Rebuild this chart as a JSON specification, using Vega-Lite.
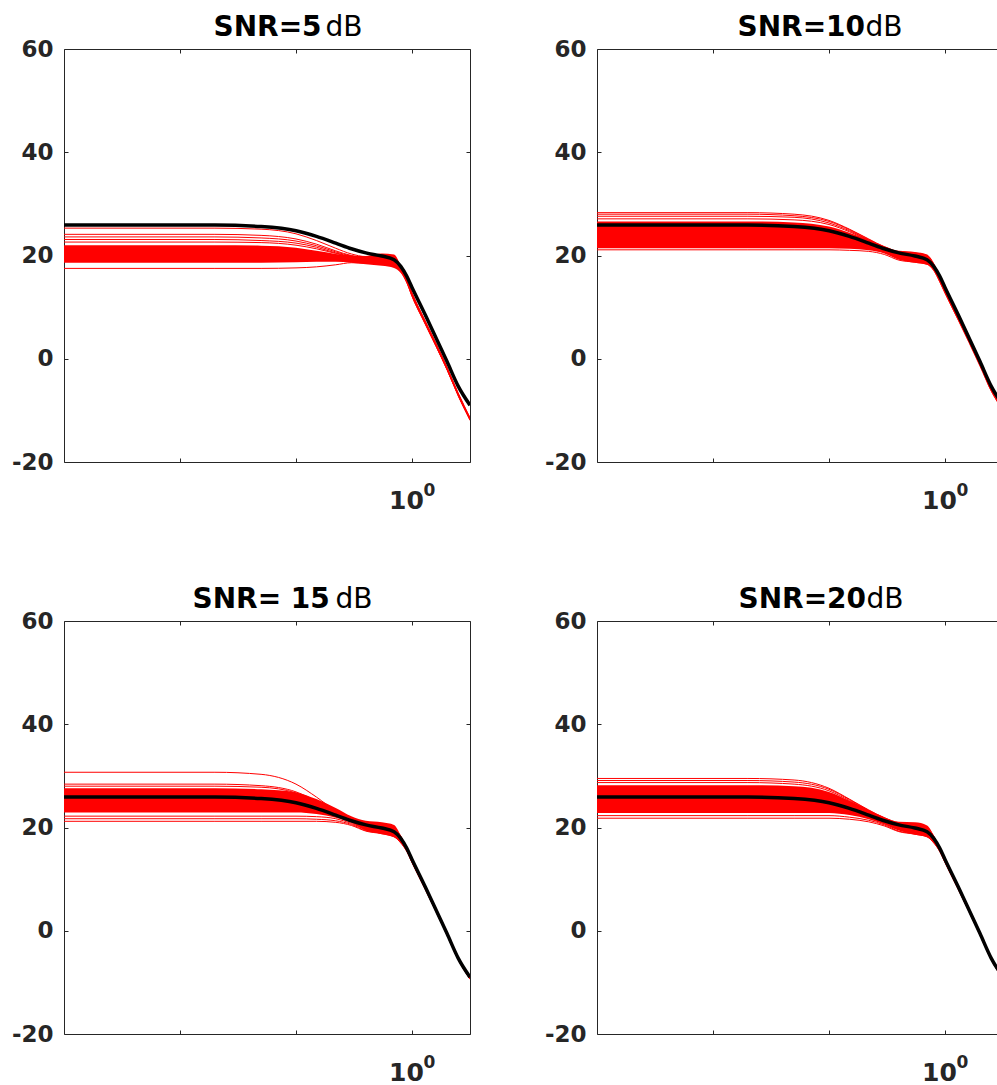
{
"$schema":"https://vega.github.io/schema/vega-lite/v6.json",
"padding":{"left":11,"top":13,"right":0,"bottom":0},
"config":{"font":"DejaVu Sans","view":{"stroke":null},"axis":{"grid":false}},
"bounds":"flush",
"spacing":{"row":159,"column":127},
"columns":2,
"datasets":{
"blk":[{"f":0.001,"v":25.9},{"f":0.02,"v":25.9},{"f":0.05,"v":25.6},{"f":0.1,"v":24.8},{"f":0.15,"v":23.7},{"f":0.22,"v":22.4},{"f":0.3,"v":21.3},{"f":0.4,"v":20.5},{"f":0.55,"v":19.9},{"f":0.7,"v":19.2},{"f":0.8,"v":17.9},{"f":0.9,"v":16.0},{"f":1,"v":13.8},{"f":1.3,"v":8.5},{"f":2,"v":-0.5},{"f":2.5,"v":-5.3},{"f":3.1623,"v":-9.0}],
"band":[
{"p":1,"f":0.001,"lo":18.6,"hi":22.0},{"p":1,"f":0.02,"lo":18.6,"hi":22.0},{"p":1,"f":0.05,"lo":18.6,"hi":21.9},{"p":1,"f":0.1,"lo":18.7,"hi":21.5},{"p":1,"f":0.15,"lo":18.8,"hi":20.9},{"p":1,"f":0.22,"lo":18.8,"hi":20.3},{"p":1,"f":0.3,"lo":18.6,"hi":20.0},{"p":1,"f":0.4,"lo":18.3,"hi":19.9},{"p":1,"f":0.55,"lo":18.0,"hi":20.4},{"p":1,"f":0.7,"lo":17.6,"hi":20.2},{"p":1,"f":0.8,"lo":16.6,"hi":18.1},{"p":1,"f":0.9,"lo":14.6,"hi":15.6},{"p":1,"f":1,"lo":11.9,"hi":13.0},{"p":1,"f":1.3,"lo":6.6,"hi":7.5},{"p":1,"f":2,"lo":-2.2,"hi":-1.4},{"p":1,"f":2.5,"lo":-7.4,"hi":-6.6},{"p":1,"f":3.1623,"lo":-12.0,"hi":-11.3},
{"p":2,"f":0.001,"lo":21.4,"hi":26.6},{"p":2,"f":0.02,"lo":21.4,"hi":26.6},{"p":2,"f":0.05,"lo":21.4,"hi":26.4},{"p":2,"f":0.1,"lo":21.4,"hi":25.6},{"p":2,"f":0.15,"lo":21.3,"hi":24.4},{"p":2,"f":0.22,"lo":21.0,"hi":23.0},{"p":2,"f":0.3,"lo":20.4,"hi":21.8},{"p":2,"f":0.4,"lo":19.2,"hi":20.9},{"p":2,"f":0.55,"lo":18.6,"hi":20.7},{"p":2,"f":0.7,"lo":18.2,"hi":20.2},{"p":2,"f":0.8,"lo":17.0,"hi":18.6},{"p":2,"f":0.9,"lo":14.8,"hi":16.0},{"p":2,"f":1,"lo":12.6,"hi":13.6},{"p":2,"f":1.3,"lo":7.4,"hi":8.3},{"p":2,"f":2,"lo":-1.4,"hi":-0.7},{"p":2,"f":2.5,"lo":-6.4,"hi":-5.7},{"p":2,"f":3.1623,"lo":-10.0,"hi":-9.3},
{"p":3,"f":0.001,"lo":22.9,"hi":27.6},{"p":3,"f":0.02,"lo":22.9,"hi":27.6},{"p":3,"f":0.05,"lo":22.9,"hi":27.4},{"p":3,"f":0.1,"lo":22.9,"hi":26.8},{"p":3,"f":0.15,"lo":22.6,"hi":25.5},{"p":3,"f":0.22,"lo":21.9,"hi":23.8},{"p":3,"f":0.3,"lo":20.9,"hi":22.2},{"p":3,"f":0.4,"lo":19.4,"hi":21.3},{"p":3,"f":0.55,"lo":18.7,"hi":21.0},{"p":3,"f":0.7,"lo":18.1,"hi":20.5},{"p":3,"f":0.8,"lo":17.0,"hi":18.5},{"p":3,"f":0.9,"lo":15.3,"hi":16.2},{"p":3,"f":1,"lo":13.2,"hi":14.0},{"p":3,"f":1.3,"lo":8.0,"hi":8.7},{"p":3,"f":2,"lo":-0.9,"hi":-0.3},{"p":3,"f":2.5,"lo":-5.7,"hi":-5.1},{"p":3,"f":3.1623,"lo":-9.4,"hi":-8.9},
{"p":4,"f":0.001,"lo":22.8,"hi":28.2},{"p":4,"f":0.02,"lo":22.8,"hi":28.2},{"p":4,"f":0.05,"lo":22.8,"hi":28.0},{"p":4,"f":0.1,"lo":22.8,"hi":26.9},{"p":4,"f":0.15,"lo":22.4,"hi":25.2},{"p":4,"f":0.22,"lo":21.6,"hi":23.4},{"p":4,"f":0.3,"lo":20.6,"hi":22.0},{"p":4,"f":0.4,"lo":19.4,"hi":21.1},{"p":4,"f":0.55,"lo":18.6,"hi":21.0},{"p":4,"f":0.7,"lo":18.1,"hi":20.4},{"p":4,"f":0.8,"lo":17.0,"hi":18.5},{"p":4,"f":0.9,"lo":15.3,"hi":16.2},{"p":4,"f":1,"lo":13.2,"hi":14.0},{"p":4,"f":1.3,"lo":8.0,"hi":8.7},{"p":4,"f":2,"lo":-0.9,"hi":-0.3},{"p":4,"f":2.5,"lo":-5.7,"hi":-5.1},{"p":4,"f":3.1623,"lo":-9.4,"hi":-8.9}
],
"red":[
{"p":1,"c":"a","f":0.001,"v":25.3},{"p":1,"c":"a","f":0.02,"v":25.3},{"p":1,"c":"a","f":0.05,"v":25.1},{"p":1,"c":"a","f":0.1,"v":24.2},{"p":1,"c":"a","f":0.15,"v":22.9},{"p":1,"c":"a","f":0.22,"v":21.4},{"p":1,"c":"a","f":0.3,"v":20.3},{"p":1,"c":"a","f":0.4,"v":19.8},{"p":1,"c":"a","f":0.55,"v":20.1},{"p":1,"c":"a","f":0.7,"v":19.8},{"p":1,"c":"a","f":0.8,"v":17.8},{"p":1,"c":"a","f":0.9,"v":15.3},{"p":1,"c":"a","f":1,"v":12.7},{"p":1,"c":"a","f":1.3,"v":7.3},{"p":1,"c":"a","f":2,"v":-1.6},{"p":1,"c":"a","f":2.5,"v":-6.6},{"p":1,"c":"a","f":3.1623,"v":-11.4},
{"p":1,"c":"b","f":0.001,"v":24.1},{"p":1,"c":"b","f":0.02,"v":24.1},{"p":1,"c":"b","f":0.05,"v":23.9},{"p":1,"c":"b","f":0.1,"v":23.2},{"p":1,"c":"b","f":0.15,"v":22.2},{"p":1,"c":"b","f":0.22,"v":20.9},{"p":1,"c":"b","f":0.3,"v":20.0},{"p":1,"c":"b","f":0.4,"v":19.6},{"p":1,"c":"b","f":0.55,"v":19.9},{"p":1,"c":"b","f":0.7,"v":19.6},{"p":1,"c":"b","f":0.8,"v":17.6},{"p":1,"c":"b","f":0.9,"v":15.2},{"p":1,"c":"b","f":1,"v":12.6},{"p":1,"c":"b","f":1.3,"v":7.1},{"p":1,"c":"b","f":2,"v":-1.8},{"p":1,"c":"b","f":2.5,"v":-6.8},{"p":1,"c":"b","f":3.1623,"v":-11.6},
{"p":1,"c":"c","f":0.001,"v":23.6},{"p":1,"c":"c","f":0.02,"v":23.6},{"p":1,"c":"c","f":0.05,"v":23.4},{"p":1,"c":"c","f":0.1,"v":22.8},{"p":1,"c":"c","f":0.15,"v":21.9},{"p":1,"c":"c","f":0.22,"v":20.7},{"p":1,"c":"c","f":0.3,"v":19.9},{"p":1,"c":"c","f":0.4,"v":19.5},{"p":1,"c":"c","f":0.55,"v":19.8},{"p":1,"c":"c","f":0.7,"v":19.5},{"p":1,"c":"c","f":0.8,"v":17.5},{"p":1,"c":"c","f":0.9,"v":15.1},{"p":1,"c":"c","f":1,"v":12.5},{"p":1,"c":"c","f":1.3,"v":7.0},{"p":1,"c":"c","f":2,"v":-1.9},{"p":1,"c":"c","f":2.5,"v":-6.9},{"p":1,"c":"c","f":3.1623,"v":-11.7},
{"p":1,"c":"d","f":0.001,"v":23.1},{"p":1,"c":"d","f":0.02,"v":23.1},{"p":1,"c":"d","f":0.05,"v":22.9},{"p":1,"c":"d","f":0.1,"v":22.4},{"p":1,"c":"d","f":0.15,"v":21.6},{"p":1,"c":"d","f":0.22,"v":20.5},{"p":1,"c":"d","f":0.3,"v":19.8},{"p":1,"c":"d","f":0.4,"v":19.4},{"p":1,"c":"d","f":0.55,"v":19.7},{"p":1,"c":"d","f":0.7,"v":19.4},{"p":1,"c":"d","f":0.8,"v":17.4},{"p":1,"c":"d","f":0.9,"v":15.0},{"p":1,"c":"d","f":1,"v":12.4},{"p":1,"c":"d","f":1.3,"v":6.9},{"p":1,"c":"d","f":2,"v":-2.0},{"p":1,"c":"d","f":2.5,"v":-7.0},{"p":1,"c":"d","f":3.1623,"v":-11.8},
{"p":1,"c":"e","f":0.001,"v":22.6},{"p":1,"c":"e","f":0.02,"v":22.6},{"p":1,"c":"e","f":0.05,"v":22.5},{"p":1,"c":"e","f":0.1,"v":22.0},{"p":1,"c":"e","f":0.15,"v":21.3},{"p":1,"c":"e","f":0.22,"v":20.4},{"p":1,"c":"e","f":0.3,"v":19.7},{"p":1,"c":"e","f":0.4,"v":19.3},{"p":1,"c":"e","f":0.55,"v":19.6},{"p":1,"c":"e","f":0.7,"v":19.3},{"p":1,"c":"e","f":0.8,"v":17.3},{"p":1,"c":"e","f":0.9,"v":15.0},{"p":1,"c":"e","f":1,"v":12.3},{"p":1,"c":"e","f":1.3,"v":6.9},{"p":1,"c":"e","f":2,"v":-2.0},{"p":1,"c":"e","f":2.5,"v":-7.0},{"p":1,"c":"e","f":3.1623,"v":-11.8},
{"p":1,"c":"f","f":0.001,"v":17.5},{"p":1,"c":"f","f":0.02,"v":17.5},{"p":1,"c":"f","f":0.05,"v":17.5},{"p":1,"c":"f","f":0.1,"v":17.6},{"p":1,"c":"f","f":0.15,"v":17.8},{"p":1,"c":"f","f":0.22,"v":18.2},{"p":1,"c":"f","f":0.3,"v":18.6},{"p":1,"c":"f","f":0.4,"v":18.5},{"p":1,"c":"f","f":0.55,"v":18.3},{"p":1,"c":"f","f":0.7,"v":18.0},{"p":1,"c":"f","f":0.8,"v":16.9},{"p":1,"c":"f","f":0.9,"v":14.8},{"p":1,"c":"f","f":1,"v":12.1},{"p":1,"c":"f","f":1.3,"v":6.7},{"p":1,"c":"f","f":2,"v":-2.1},{"p":1,"c":"f","f":2.5,"v":-7.1},{"p":1,"c":"f","f":3.1623,"v":-11.9},
{"p":2,"c":"a","f":0.001,"v":28.3},{"p":2,"c":"a","f":0.02,"v":28.3},{"p":2,"c":"a","f":0.05,"v":28.0},{"p":2,"c":"a","f":0.1,"v":26.8},{"p":2,"c":"a","f":0.15,"v":25.1},{"p":2,"c":"a","f":0.22,"v":23.2},{"p":2,"c":"a","f":0.3,"v":21.7},{"p":2,"c":"a","f":0.4,"v":20.7},{"p":2,"c":"a","f":0.55,"v":20.5},{"p":2,"c":"a","f":0.7,"v":20.0},{"p":2,"c":"a","f":0.8,"v":18.3},{"p":2,"c":"a","f":0.9,"v":15.7},{"p":2,"c":"a","f":1,"v":13.3},{"p":2,"c":"a","f":1.3,"v":8.0},{"p":2,"c":"a","f":2,"v":-0.9},{"p":2,"c":"a","f":2.5,"v":-5.7},{"p":2,"c":"a","f":3.1623,"v":-9.5},
{"p":2,"c":"b","f":0.001,"v":28.0},{"p":2,"c":"b","f":0.02,"v":28.0},{"p":2,"c":"b","f":0.05,"v":27.7},{"p":2,"c":"b","f":0.1,"v":26.6},{"p":2,"c":"b","f":0.15,"v":25.0},{"p":2,"c":"b","f":0.22,"v":23.1},{"p":2,"c":"b","f":0.3,"v":21.6},{"p":2,"c":"b","f":0.4,"v":20.6},{"p":2,"c":"b","f":0.55,"v":20.4},{"p":2,"c":"b","f":0.7,"v":19.9},{"p":2,"c":"b","f":0.8,"v":18.2},{"p":2,"c":"b","f":0.9,"v":15.6},{"p":2,"c":"b","f":1,"v":13.2},{"p":2,"c":"b","f":1.3,"v":7.9},{"p":2,"c":"b","f":2,"v":-1.0},{"p":2,"c":"b","f":2.5,"v":-5.8},{"p":2,"c":"b","f":3.1623,"v":-9.6},
{"p":2,"c":"c","f":0.001,"v":27.6},{"p":2,"c":"c","f":0.02,"v":27.6},{"p":2,"c":"c","f":0.05,"v":27.4},{"p":2,"c":"c","f":0.1,"v":26.3},{"p":2,"c":"c","f":0.15,"v":24.8},{"p":2,"c":"c","f":0.22,"v":23.0},{"p":2,"c":"c","f":0.3,"v":21.6},{"p":2,"c":"c","f":0.4,"v":20.6},{"p":2,"c":"c","f":0.55,"v":20.4},{"p":2,"c":"c","f":0.7,"v":19.9},{"p":2,"c":"c","f":0.8,"v":18.1},{"p":2,"c":"c","f":0.9,"v":15.5},{"p":2,"c":"c","f":1,"v":13.1},{"p":2,"c":"c","f":1.3,"v":7.9},{"p":2,"c":"c","f":2,"v":-1.0},{"p":2,"c":"c","f":2.5,"v":-5.8},{"p":2,"c":"c","f":3.1623,"v":-9.6},
{"p":2,"c":"d","f":0.001,"v":27.1},{"p":2,"c":"d","f":0.02,"v":27.1},{"p":2,"c":"d","f":0.05,"v":26.9},{"p":2,"c":"d","f":0.1,"v":26.0},{"p":2,"c":"d","f":0.15,"v":24.6},{"p":2,"c":"d","f":0.22,"v":22.9},{"p":2,"c":"d","f":0.3,"v":21.5},{"p":2,"c":"d","f":0.4,"v":20.5},{"p":2,"c":"d","f":0.55,"v":20.3},{"p":2,"c":"d","f":0.7,"v":19.8},{"p":2,"c":"d","f":0.8,"v":18.0},{"p":2,"c":"d","f":0.9,"v":15.4},{"p":2,"c":"d","f":1,"v":13.0},{"p":2,"c":"d","f":1.3,"v":7.8},{"p":2,"c":"d","f":2,"v":-1.1},{"p":2,"c":"d","f":2.5,"v":-5.9},{"p":2,"c":"d","f":3.1623,"v":-9.7},
{"p":2,"c":"e","f":0.001,"v":21.1},{"p":2,"c":"e","f":0.02,"v":21.1},{"p":2,"c":"e","f":0.05,"v":21.1},{"p":2,"c":"e","f":0.1,"v":21.1},{"p":2,"c":"e","f":0.15,"v":21.0},{"p":2,"c":"e","f":0.22,"v":20.8},{"p":2,"c":"e","f":0.3,"v":20.2},{"p":2,"c":"e","f":0.4,"v":19.1},{"p":2,"c":"e","f":0.55,"v":18.7},{"p":2,"c":"e","f":0.7,"v":18.3},{"p":2,"c":"e","f":0.8,"v":17.1},{"p":2,"c":"e","f":0.9,"v":14.9},{"p":2,"c":"e","f":1,"v":12.7},{"p":2,"c":"e","f":1.3,"v":7.5},{"p":2,"c":"e","f":2,"v":-1.4},{"p":2,"c":"e","f":2.5,"v":-6.2},{"p":2,"c":"e","f":3.1623,"v":-10.0},
{"p":3,"c":"a","f":0.001,"v":30.7},{"p":3,"c":"a","f":0.02,"v":30.7},{"p":3,"c":"a","f":0.05,"v":30.3},{"p":3,"c":"a","f":0.1,"v":28.4},{"p":3,"c":"a","f":0.15,"v":25.9},{"p":3,"c":"a","f":0.22,"v":23.2},{"p":3,"c":"a","f":0.3,"v":21.6},{"p":3,"c":"a","f":0.4,"v":20.7},{"p":3,"c":"a","f":0.55,"v":20.4},{"p":3,"c":"a","f":0.7,"v":19.8},{"p":3,"c":"a","f":0.8,"v":18.2},{"p":3,"c":"a","f":0.9,"v":16.0},{"p":3,"c":"a","f":1,"v":13.8},{"p":3,"c":"a","f":1.3,"v":8.5},{"p":3,"c":"a","f":2,"v":-0.5},{"p":3,"c":"a","f":2.5,"v":-5.3},{"p":3,"c":"a","f":3.1623,"v":-9.0},
{"p":3,"c":"b","f":0.001,"v":28.4},{"p":3,"c":"b","f":0.02,"v":28.4},{"p":3,"c":"b","f":0.05,"v":28.1},{"p":3,"c":"b","f":0.1,"v":26.9},{"p":3,"c":"b","f":0.15,"v":25.1},{"p":3,"c":"b","f":0.22,"v":22.9},{"p":3,"c":"b","f":0.3,"v":21.6},{"p":3,"c":"b","f":0.4,"v":20.8},{"p":3,"c":"b","f":0.55,"v":20.5},{"p":3,"c":"b","f":0.7,"v":19.9},{"p":3,"c":"b","f":0.8,"v":18.3},{"p":3,"c":"b","f":0.9,"v":16.0},{"p":3,"c":"b","f":1,"v":13.8},{"p":3,"c":"b","f":1.3,"v":8.5},{"p":3,"c":"b","f":2,"v":-0.5},{"p":3,"c":"b","f":2.5,"v":-5.3},{"p":3,"c":"b","f":3.1623,"v":-9.0},
{"p":3,"c":"c","f":0.001,"v":28.0},{"p":3,"c":"c","f":0.02,"v":28.0},{"p":3,"c":"c","f":0.05,"v":27.8},{"p":3,"c":"c","f":0.1,"v":26.7},{"p":3,"c":"c","f":0.15,"v":25.0},{"p":3,"c":"c","f":0.22,"v":22.8},{"p":3,"c":"c","f":0.3,"v":21.5},{"p":3,"c":"c","f":0.4,"v":20.7},{"p":3,"c":"c","f":0.55,"v":20.4},{"p":3,"c":"c","f":0.7,"v":19.8},{"p":3,"c":"c","f":0.8,"v":18.2},{"p":3,"c":"c","f":0.9,"v":16.0},{"p":3,"c":"c","f":1,"v":13.7},{"p":3,"c":"c","f":1.3,"v":8.4},{"p":3,"c":"c","f":2,"v":-0.6},{"p":3,"c":"c","f":2.5,"v":-5.4},{"p":3,"c":"c","f":3.1623,"v":-9.1},
{"p":3,"c":"d","f":0.001,"v":22.2},{"p":3,"c":"d","f":0.02,"v":22.2},{"p":3,"c":"d","f":0.05,"v":22.2},{"p":3,"c":"d","f":0.1,"v":22.2},{"p":3,"c":"d","f":0.15,"v":22.1},{"p":3,"c":"d","f":0.22,"v":21.7},{"p":3,"c":"d","f":0.3,"v":20.8},{"p":3,"c":"d","f":0.4,"v":19.6},{"p":3,"c":"d","f":0.55,"v":19.0},{"p":3,"c":"d","f":0.7,"v":18.4},{"p":3,"c":"d","f":0.8,"v":17.2},{"p":3,"c":"d","f":0.9,"v":15.5},{"p":3,"c":"d","f":1,"v":13.3},{"p":3,"c":"d","f":1.3,"v":8.1},{"p":3,"c":"d","f":2,"v":-0.7},{"p":3,"c":"d","f":2.5,"v":-5.5},{"p":3,"c":"d","f":3.1623,"v":-9.3},
{"p":3,"c":"e","f":0.001,"v":21.7},{"p":3,"c":"e","f":0.02,"v":21.7},{"p":3,"c":"e","f":0.05,"v":21.7},{"p":3,"c":"e","f":0.1,"v":21.7},{"p":3,"c":"e","f":0.15,"v":21.6},{"p":3,"c":"e","f":0.22,"v":21.3},{"p":3,"c":"e","f":0.3,"v":20.6},{"p":3,"c":"e","f":0.4,"v":19.4},{"p":3,"c":"e","f":0.55,"v":18.9},{"p":3,"c":"e","f":0.7,"v":18.3},{"p":3,"c":"e","f":0.8,"v":17.1},{"p":3,"c":"e","f":0.9,"v":15.5},{"p":3,"c":"e","f":1,"v":13.3},{"p":3,"c":"e","f":1.3,"v":8.1},{"p":3,"c":"e","f":2,"v":-0.7},{"p":3,"c":"e","f":2.5,"v":-5.5},{"p":3,"c":"e","f":3.1623,"v":-9.3},
{"p":3,"c":"f","f":0.001,"v":21.2},{"p":3,"c":"f","f":0.02,"v":21.2},{"p":3,"c":"f","f":0.05,"v":21.2},{"p":3,"c":"f","f":0.1,"v":21.2},{"p":3,"c":"f","f":0.15,"v":21.2},{"p":3,"c":"f","f":0.22,"v":21.0},{"p":3,"c":"f","f":0.3,"v":20.4},{"p":3,"c":"f","f":0.4,"v":19.3},{"p":3,"c":"f","f":0.55,"v":18.8},{"p":3,"c":"f","f":0.7,"v":18.2},{"p":3,"c":"f","f":0.8,"v":17.0},{"p":3,"c":"f","f":0.9,"v":15.4},{"p":3,"c":"f","f":1,"v":13.2},{"p":3,"c":"f","f":1.3,"v":8.0},{"p":3,"c":"f","f":2,"v":-0.8},{"p":3,"c":"f","f":2.5,"v":-5.6},{"p":3,"c":"f","f":3.1623,"v":-9.4},
{"p":4,"c":"a","f":0.001,"v":29.5},{"p":4,"c":"a","f":0.02,"v":29.5},{"p":4,"c":"a","f":0.05,"v":29.2},{"p":4,"c":"a","f":0.1,"v":27.6},{"p":4,"c":"a","f":0.15,"v":25.5},{"p":4,"c":"a","f":0.22,"v":23.4},{"p":4,"c":"a","f":0.3,"v":21.9},{"p":4,"c":"a","f":0.4,"v":20.9},{"p":4,"c":"a","f":0.55,"v":20.6},{"p":4,"c":"a","f":0.7,"v":20.0},{"p":4,"c":"a","f":0.8,"v":18.3},{"p":4,"c":"a","f":0.9,"v":16.0},{"p":4,"c":"a","f":1,"v":13.8},{"p":4,"c":"a","f":1.3,"v":8.5},{"p":4,"c":"a","f":2,"v":-0.5},{"p":4,"c":"a","f":2.5,"v":-5.3},{"p":4,"c":"a","f":3.1623,"v":-9.0},
{"p":4,"c":"b","f":0.001,"v":29.1},{"p":4,"c":"b","f":0.02,"v":29.1},{"p":4,"c":"b","f":0.05,"v":28.8},{"p":4,"c":"b","f":0.1,"v":27.4},{"p":4,"c":"b","f":0.15,"v":25.4},{"p":4,"c":"b","f":0.22,"v":23.3},{"p":4,"c":"b","f":0.3,"v":21.8},{"p":4,"c":"b","f":0.4,"v":20.8},{"p":4,"c":"b","f":0.55,"v":20.5},{"p":4,"c":"b","f":0.7,"v":19.9},{"p":4,"c":"b","f":0.8,"v":18.2},{"p":4,"c":"b","f":0.9,"v":16.0},{"p":4,"c":"b","f":1,"v":13.7},{"p":4,"c":"b","f":1.3,"v":8.4},{"p":4,"c":"b","f":2,"v":-0.6},{"p":4,"c":"b","f":2.5,"v":-5.4},{"p":4,"c":"b","f":3.1623,"v":-9.1},
{"p":4,"c":"c","f":0.001,"v":28.7},{"p":4,"c":"c","f":0.02,"v":28.7},{"p":4,"c":"c","f":0.05,"v":28.4},{"p":4,"c":"c","f":0.1,"v":27.1},{"p":4,"c":"c","f":0.15,"v":25.2},{"p":4,"c":"c","f":0.22,"v":23.2},{"p":4,"c":"c","f":0.3,"v":21.8},{"p":4,"c":"c","f":0.4,"v":20.8},{"p":4,"c":"c","f":0.55,"v":20.5},{"p":4,"c":"c","f":0.7,"v":19.9},{"p":4,"c":"c","f":0.8,"v":18.2},{"p":4,"c":"c","f":0.9,"v":15.9},{"p":4,"c":"c","f":1,"v":13.7},{"p":4,"c":"c","f":1.3,"v":8.4},{"p":4,"c":"c","f":2,"v":-0.6},{"p":4,"c":"c","f":2.5,"v":-5.4},{"p":4,"c":"c","f":3.1623,"v":-9.1},
{"p":4,"c":"d","f":0.001,"v":22.3},{"p":4,"c":"d","f":0.02,"v":22.3},{"p":4,"c":"d","f":0.05,"v":22.3},{"p":4,"c":"d","f":0.1,"v":22.3},{"p":4,"c":"d","f":0.15,"v":22.0},{"p":4,"c":"d","f":0.22,"v":21.4},{"p":4,"c":"d","f":0.3,"v":20.5},{"p":4,"c":"d","f":0.4,"v":19.3},{"p":4,"c":"d","f":0.55,"v":18.8},{"p":4,"c":"d","f":0.7,"v":18.3},{"p":4,"c":"d","f":0.8,"v":17.1},{"p":4,"c":"d","f":0.9,"v":15.4},{"p":4,"c":"d","f":1,"v":13.3},{"p":4,"c":"d","f":1.3,"v":8.1},{"p":4,"c":"d","f":2,"v":-0.7},{"p":4,"c":"d","f":2.5,"v":-5.5},{"p":4,"c":"d","f":3.1623,"v":-9.3},
{"p":4,"c":"e","f":0.001,"v":21.8},{"p":4,"c":"e","f":0.02,"v":21.8},{"p":4,"c":"e","f":0.05,"v":21.8},{"p":4,"c":"e","f":0.1,"v":21.8},{"p":4,"c":"e","f":0.15,"v":21.6},{"p":4,"c":"e","f":0.22,"v":21.1},{"p":4,"c":"e","f":0.3,"v":20.3},{"p":4,"c":"e","f":0.4,"v":19.2},{"p":4,"c":"e","f":0.55,"v":18.7},{"p":4,"c":"e","f":0.7,"v":18.2},{"p":4,"c":"e","f":0.8,"v":17.0},{"p":4,"c":"e","f":0.9,"v":15.4},{"p":4,"c":"e","f":1,"v":13.2},{"p":4,"c":"e","f":1.3,"v":8.0},{"p":4,"c":"e","f":2,"v":-0.8},{"p":4,"c":"e","f":2.5,"v":-5.6},{"p":4,"c":"e","f":3.1623,"v":-9.4}
]},
"concat":[
{"width":406,"height":413,
 "layer":[
  {"data":{"name":"band"},"transform":[{"filter":"datum.p == 1"}],"mark":{"type":"area","color":"#ff0000","opacity":1,"interpolate":"monotone","clip":true},
   "encoding":{"x":{"field":"f","type":"quantitative","scale":{"type":"log","domain":[0.001,3.1623],"nice":false},"axis":{"orient":"bottom","values":[0.01,0.1,1],"labelExpr":"datum.value == 1 ? '10' : ''","title":null,"tickSize":-4,"tickColor":"#262626","domainColor":"#262626","labelFont":"DejaVu Sans","labelFontWeight":"bold","labelFontSize":25,"labelColor":"#262626","labelPadding":30,"labelOffset":-6,"labelFlush":false,"labelOverlap":false}},
    "y":{"field":"lo","type":"quantitative","scale":{"domain":[-20,60],"nice":false},"axis":{"orient":"left","values":[-20,0,20,40,60],"labelExpr":"'' + datum.value","tickSize":-4,"tickColor":"#262626","domainColor":"#262626","labelFont":"DejaVu Sans","labelFontWeight":"bold","labelFontSize":23,"labelColor":"#262626","labelPadding":15,"labelFlush":false,"labelOverlap":false,"title":"SNR=5","titleX":149,"titleY":-14,"titleAngle":0,"titleAlign":"left","titleBaseline":"alphabetic","titleFont":"DejaVu Sans","titleFontSize":28,"titleFontWeight":"bold","titleColor":"#000000"}},
    "y2":{"field":"hi"}}},
  {"data":{"name":"red"},"transform":[{"filter":"datum.p == 1"}],"mark":{"type":"line","color":"#ff0000","strokeWidth":1,"interpolate":"monotone","clip":true},
   "encoding":{"x":{"field":"f","type":"quantitative","scale":{"type":"log","domain":[0.001,3.1623],"nice":false},"axis":{"orient":"bottom","values":[1],"labelExpr":"'0'","title":null,"domain":false,"ticks":false,"labelFont":"DejaVu Sans","labelFontWeight":"bold","labelFontSize":17,"labelColor":"#262626","labelPadding":20,"labelOffset":17,"labelFlush":false,"labelOverlap":false}},"y":{"field":"v","type":"quantitative","scale":{"domain":[-20,60],"nice":false},"axis":null},"detail":{"field":"c"}}},
  {"data":{"name":"blk"},"mark":{"type":"line","color":"#000000","strokeWidth":3.5,"interpolate":"monotone","clip":true},
   "encoding":{"x":{"field":"f","type":"quantitative","scale":{"type":"log","domain":[0.001,3.1623],"nice":false},"axis":{"orient":"top","values":[0.01,0.1,1],"labels":false,"tickSize":-4,"tickColor":"#262626","domainColor":"#262626","title":"dB","titleX":261,"titleY":-14,"titleAlign":"left","titleBaseline":"alphabetic","titleFont":"DejaVu Sans","titleFontSize":28,"titleFontWeight":"normal","titleColor":"#000000"}},
    "y":{"field":"v","type":"quantitative","scale":{"domain":[-20,60],"nice":false},"axis":{"orient":"right","values":[-20,0,20,40,60],"labels":false,"title":null,"tickSize":-4,"tickColor":"#262626","domainColor":"#262626"}}}}
 ],
 "resolve":{"axis":{"x":"independent","y":"independent"}}},
{"width":400,"height":413,
 "layer":[
  {"data":{"name":"band"},"transform":[{"filter":"datum.p == 2"}],"mark":{"type":"area","color":"#ff0000","opacity":1,"interpolate":"monotone","clip":true},
   "encoding":{"x":{"field":"f","type":"quantitative","scale":{"type":"log","domain":[0.001,2.8072],"nice":false},"axis":{"orient":"bottom","values":[0.01,0.1,1],"labelExpr":"datum.value == 1 ? '10' : ''","title":null,"tickSize":-4,"tickColor":"#262626","domainColor":"#262626","labelFont":"DejaVu Sans","labelFontWeight":"bold","labelFontSize":25,"labelColor":"#262626","labelPadding":30,"labelOffset":-6,"labelFlush":false,"labelOverlap":false}},
    "y":{"field":"lo","type":"quantitative","scale":{"domain":[-20,60],"nice":false},"axis":{"orient":"left","values":[-20,0,20,40,60],"labelExpr":"'' + datum.value","tickSize":-4,"tickColor":"#262626","domainColor":"#262626","labelFont":"DejaVu Sans","labelFontWeight":"bold","labelFontSize":23,"labelColor":"#262626","labelPadding":15,"labelFlush":false,"labelOverlap":false,"title":"SNR=10","titleX":140,"titleY":-14,"titleAngle":0,"titleAlign":"left","titleBaseline":"alphabetic","titleFont":"DejaVu Sans","titleFontSize":28,"titleFontWeight":"bold","titleColor":"#000000"}},
    "y2":{"field":"hi"}}},
  {"data":{"name":"red"},"transform":[{"filter":"datum.p == 2"}],"mark":{"type":"line","color":"#ff0000","strokeWidth":1,"interpolate":"monotone","clip":true},
   "encoding":{"x":{"field":"f","type":"quantitative","scale":{"type":"log","domain":[0.001,2.8072],"nice":false},"axis":{"orient":"bottom","values":[1],"labelExpr":"'0'","title":null,"domain":false,"ticks":false,"labelFont":"DejaVu Sans","labelFontWeight":"bold","labelFontSize":17,"labelColor":"#262626","labelPadding":20,"labelOffset":17,"labelFlush":false,"labelOverlap":false}},"y":{"field":"v","type":"quantitative","scale":{"domain":[-20,60],"nice":false},"axis":null},"detail":{"field":"c"}}},
  {"data":{"name":"blk"},"mark":{"type":"line","color":"#000000","strokeWidth":3.5,"interpolate":"monotone","clip":true},
   "encoding":{"x":{"field":"f","type":"quantitative","scale":{"type":"log","domain":[0.001,2.8072],"nice":false},"axis":{"orient":"top","values":[0.01,0.1,1],"labels":false,"tickSize":-4,"tickColor":"#262626","domainColor":"#262626","title":"dB","titleX":268,"titleY":-14,"titleAlign":"left","titleBaseline":"alphabetic","titleFont":"DejaVu Sans","titleFontSize":28,"titleFontWeight":"normal","titleColor":"#000000"}},
    "y":{"field":"v","type":"quantitative","scale":{"domain":[-20,60],"nice":false},"axis":null}}}
 ],
 "resolve":{"axis":{"x":"independent","y":"independent"}}},
{"width":406,"height":413,
 "layer":[
  {"data":{"name":"band"},"transform":[{"filter":"datum.p == 3"}],"mark":{"type":"area","color":"#ff0000","opacity":1,"interpolate":"monotone","clip":true},
   "encoding":{"x":{"field":"f","type":"quantitative","scale":{"type":"log","domain":[0.001,3.1623],"nice":false},"axis":{"orient":"bottom","values":[0.01,0.1,1],"labelExpr":"datum.value == 1 ? '10' : ''","title":null,"tickSize":-4,"tickColor":"#262626","domainColor":"#262626","labelFont":"DejaVu Sans","labelFontWeight":"bold","labelFontSize":25,"labelColor":"#262626","labelPadding":30,"labelOffset":-6,"labelFlush":false,"labelOverlap":false}},
    "y":{"field":"lo","type":"quantitative","scale":{"domain":[-20,60],"nice":false},"axis":{"orient":"left","values":[-20,0,20,40,60],"labelExpr":"'' + datum.value","tickSize":-4,"tickColor":"#262626","domainColor":"#262626","labelFont":"DejaVu Sans","labelFontWeight":"bold","labelFontSize":23,"labelColor":"#262626","labelPadding":15,"labelFlush":false,"labelOverlap":false,"title":"SNR= 15","titleX":128,"titleY":-14,"titleAngle":0,"titleAlign":"left","titleBaseline":"alphabetic","titleFont":"DejaVu Sans","titleFontSize":28,"titleFontWeight":"bold","titleColor":"#000000"}},
    "y2":{"field":"hi"}}},
  {"data":{"name":"red"},"transform":[{"filter":"datum.p == 3"}],"mark":{"type":"line","color":"#ff0000","strokeWidth":1,"interpolate":"monotone","clip":true},
   "encoding":{"x":{"field":"f","type":"quantitative","scale":{"type":"log","domain":[0.001,3.1623],"nice":false},"axis":{"orient":"bottom","values":[1],"labelExpr":"'0'","title":null,"domain":false,"ticks":false,"labelFont":"DejaVu Sans","labelFontWeight":"bold","labelFontSize":17,"labelColor":"#262626","labelPadding":20,"labelOffset":17,"labelFlush":false,"labelOverlap":false}},"y":{"field":"v","type":"quantitative","scale":{"domain":[-20,60],"nice":false},"axis":null},"detail":{"field":"c"}}},
  {"data":{"name":"blk"},"mark":{"type":"line","color":"#000000","strokeWidth":3.5,"interpolate":"monotone","clip":true},
   "encoding":{"x":{"field":"f","type":"quantitative","scale":{"type":"log","domain":[0.001,3.1623],"nice":false},"axis":{"orient":"top","values":[0.01,0.1,1],"labels":false,"tickSize":-4,"tickColor":"#262626","domainColor":"#262626","title":"dB","titleX":271,"titleY":-14,"titleAlign":"left","titleBaseline":"alphabetic","titleFont":"DejaVu Sans","titleFontSize":28,"titleFontWeight":"normal","titleColor":"#000000"}},
    "y":{"field":"v","type":"quantitative","scale":{"domain":[-20,60],"nice":false},"axis":{"orient":"right","values":[-20,0,20,40,60],"labels":false,"title":null,"tickSize":-4,"tickColor":"#262626","domainColor":"#262626"}}}}
 ],
 "resolve":{"axis":{"x":"independent","y":"independent"}}},
{"width":400,"height":413,
 "layer":[
  {"data":{"name":"band"},"transform":[{"filter":"datum.p == 4"}],"mark":{"type":"area","color":"#ff0000","opacity":1,"interpolate":"monotone","clip":true},
   "encoding":{"x":{"field":"f","type":"quantitative","scale":{"type":"log","domain":[0.001,2.8072],"nice":false},"axis":{"orient":"bottom","values":[0.01,0.1,1],"labelExpr":"datum.value == 1 ? '10' : ''","title":null,"tickSize":-4,"tickColor":"#262626","domainColor":"#262626","labelFont":"DejaVu Sans","labelFontWeight":"bold","labelFontSize":25,"labelColor":"#262626","labelPadding":30,"labelOffset":-6,"labelFlush":false,"labelOverlap":false}},
    "y":{"field":"lo","type":"quantitative","scale":{"domain":[-20,60],"nice":false},"axis":{"orient":"left","values":[-20,0,20,40,60],"labelExpr":"'' + datum.value","tickSize":-4,"tickColor":"#262626","domainColor":"#262626","labelFont":"DejaVu Sans","labelFontWeight":"bold","labelFontSize":23,"labelColor":"#262626","labelPadding":15,"labelFlush":false,"labelOverlap":false,"title":"SNR=20","titleX":141,"titleY":-14,"titleAngle":0,"titleAlign":"left","titleBaseline":"alphabetic","titleFont":"DejaVu Sans","titleFontSize":28,"titleFontWeight":"bold","titleColor":"#000000"}},
    "y2":{"field":"hi"}}},
  {"data":{"name":"red"},"transform":[{"filter":"datum.p == 4"}],"mark":{"type":"line","color":"#ff0000","strokeWidth":1,"interpolate":"monotone","clip":true},
   "encoding":{"x":{"field":"f","type":"quantitative","scale":{"type":"log","domain":[0.001,2.8072],"nice":false},"axis":{"orient":"bottom","values":[1],"labelExpr":"'0'","title":null,"domain":false,"ticks":false,"labelFont":"DejaVu Sans","labelFontWeight":"bold","labelFontSize":17,"labelColor":"#262626","labelPadding":20,"labelOffset":17,"labelFlush":false,"labelOverlap":false}},"y":{"field":"v","type":"quantitative","scale":{"domain":[-20,60],"nice":false},"axis":null},"detail":{"field":"c"}}},
  {"data":{"name":"blk"},"mark":{"type":"line","color":"#000000","strokeWidth":3.5,"interpolate":"monotone","clip":true},
   "encoding":{"x":{"field":"f","type":"quantitative","scale":{"type":"log","domain":[0.001,2.8072],"nice":false},"axis":{"orient":"top","values":[0.01,0.1,1],"labels":false,"tickSize":-4,"tickColor":"#262626","domainColor":"#262626","title":"dB","titleX":269,"titleY":-14,"titleAlign":"left","titleBaseline":"alphabetic","titleFont":"DejaVu Sans","titleFontSize":28,"titleFontWeight":"normal","titleColor":"#000000"}},
    "y":{"field":"v","type":"quantitative","scale":{"domain":[-20,60],"nice":false},"axis":null}}}
 ],
 "resolve":{"axis":{"x":"independent","y":"independent"}}}
]
}
